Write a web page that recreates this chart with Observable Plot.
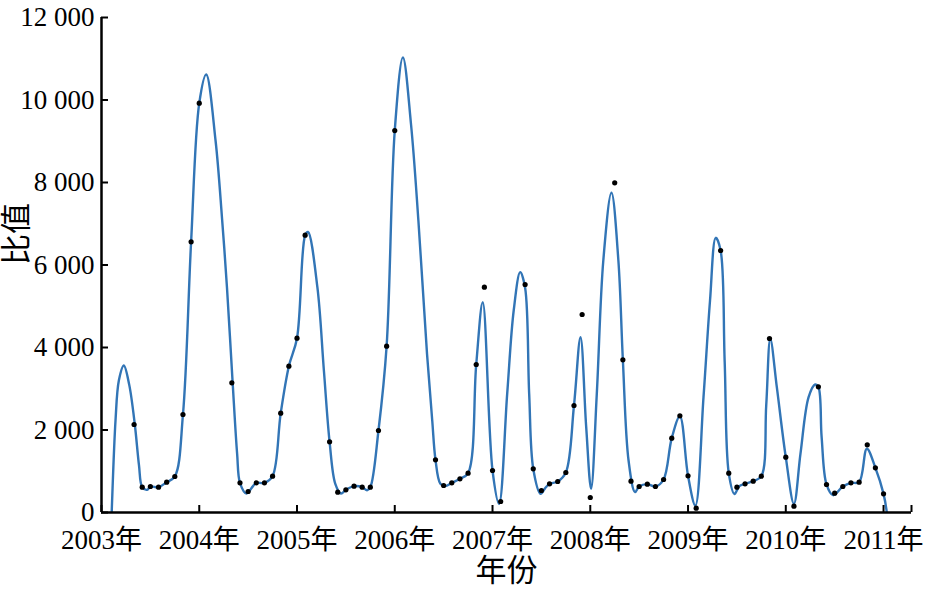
<!DOCTYPE html>
<html><head><meta charset="utf-8">
<script src="https://cdn.jsdelivr.net/npm/d3@7"></script>
<script src="https://cdn.jsdelivr.net/npm/@observablehq/plot@0.6"></script>
<style>body{margin:0;background:#fff}</style>
</head><body><div id="chart"></div>
<script>
// Months counted from January 2003 (0 = Jan 2003)
const startYear = 2003;
const dotMonths = [4,5,6,7,8,9,10,11,12,16,17,18,19,20,21,22,23,24,25,28,29,30,31,32,33,34,35,36,41,42,43,44,45,46,47,48,49,52,53,54,55,56,57,58,59,60,63,64,65,66,67,68,69,70,71,72,73,76,77,78,79,80,81,82,84,85,88,89,90,91,92,93,94,95,96];
const dotValues = [2133,613,630,613,735,873,2376,6562,9923,3144,719,509,719,719,881,2408,3547,4226,6723,1713,493,550,638,614,614,1988,4032,9260,1277,655,719,816,954,3588,5463,1018,267,5527,1059,533,695,752,970,2594,4800,364,7992,3701,760,630,687,630,800,1802,2343,889,105,6351,954,614,695,760,881,4218,1341,154,3047,679,469,630,719,735,1640,1083,452];

// Fitted smooth curve
const curveMonths = [1.0,1.25,1.72,2.13,2.74,3.4,4.09,4.6,5.0,5.6,6,7,8,9,10,11,12,12.85,14.0,14.8,15.4,16.1,16.65,17,17.8,18.6,19,20,21,22,23,24,25,25.35,26.5,27.3,28,28.7,29.4,30,31,32,32.6,33,34,35,36,37.0,38.0,38.9,39.96,40.6,41,41.6,42.2,43,44,45,46,46.8,48,48.8,49.8,50.6,51.4,52,52.5,53,53.9,54.5,55,56,57,58,58.8,59.5,60.1,60.8,61.6,62.6,63.45,64,64.7,65.5,66,67,68,69,70,71,72,72.9,73.9,74.7,75.4,76,76.5,77,77.7,78.3,79,80,81,81.6,82.1,82.9,84,85,85.8,86.8,87.6,88,88.4,89,89.8,91,92,93,93.95,95,96,96.4,96.7];
const curveValues = [-1500,0,2230,3200,3564,3100,2133,1150,613,550,630,613,735,873,2376,6562,9923,10618,9018,7120,5462,3144,1422,719,460,640,719,719,881,2408,3547,4226,6723,6800,5462,3442,1713,695,460,550,638,614,540,614,1988,4032,9260,11030,9400,7079,3847,2230,1277,695,640,719,816,954,3588,5098,1018,210,2876,4897,5826,5450,2876,1059,453,600,695,752,970,2594,4250,2068,574,2876,6109,7750,6109,3701,1260,493,630,687,630,800,1802,2330,889,170,2796,5139,6659,6351,3650,954,450,640,695,760,881,2600,4210,3038,1341,210,1422,2796,3103,3047,1826,679,420,630,719,735,1544,1083,452,0,-800];

const yearTicks = [2003,2004,2005,2006,2007,2008,2009,2010,2011];
const yTicks = [0,2000,4000,6000,8000,10000,12000];
const xEnd = 2011.286;

const dots = dotMonths.map((m,i) => ({t: startYear + m/12, v: dotValues[i]}));
const curve = curveMonths.map((m,i) => ({t: startYear + m/12, v: curveValues[i]}));
const fmt = d => d3.format(",")(d).replace(/,/g, " ");
const font = "'Liberation Serif', 'Times New Roman', 'Noto Sans CJK SC', serif";

const plot = Plot.plot({
  width: 933, height: 591,
  marginLeft: 101, marginRight: 22, marginTop: 17, marginBottom: 79,
  style: `font-family: ${font}; font-size: 27px; color: black; background: white;`,
  x: {domain: [2003, xEnd]},
  y: {domain: [0, 12000]},
  marks: [
    Plot.line(curve, {x: "t", y: "v", curve: "catmull-rom", stroke: "#3275b6", strokeWidth: 2.4, clip: true}),
    Plot.dot(dots, {x: "t", y: "v", r: 2.6, fill: "black"}),
    Plot.ruleY([0], {strokeWidth: 2.5, stroke: "black"}),
    Plot.ruleX([2003], {strokeWidth: 2.5, stroke: "black"}),
    Plot.axisY({ticks: yTicks, tickSize: -7, tickPadding: 14, tickFormat: fmt, label: null, strokeWidth: 2, fontSize: 27, fontFamily: font}),
    Plot.axisX({ticks: [...yearTicks, xEnd], tickSize: -7, tickPadding: 24, tickFormat: d => Number.isInteger(d) ? d + "年" : "", label: null, strokeWidth: 2, fontSize: 27, fontFamily: font}),
    Plot.text(["比值"], {frameAnchor: "left", dx: -84, rotate: -90, fontSize: 31, fill: "black", fontFamily: font}),
    Plot.text(["年份"], {frameAnchor: "bottom", dy: 68, fontSize: 31, fill: "black", fontFamily: font})
  ]
});
document.getElementById("chart").appendChild(plot);
</script>
</body></html>
